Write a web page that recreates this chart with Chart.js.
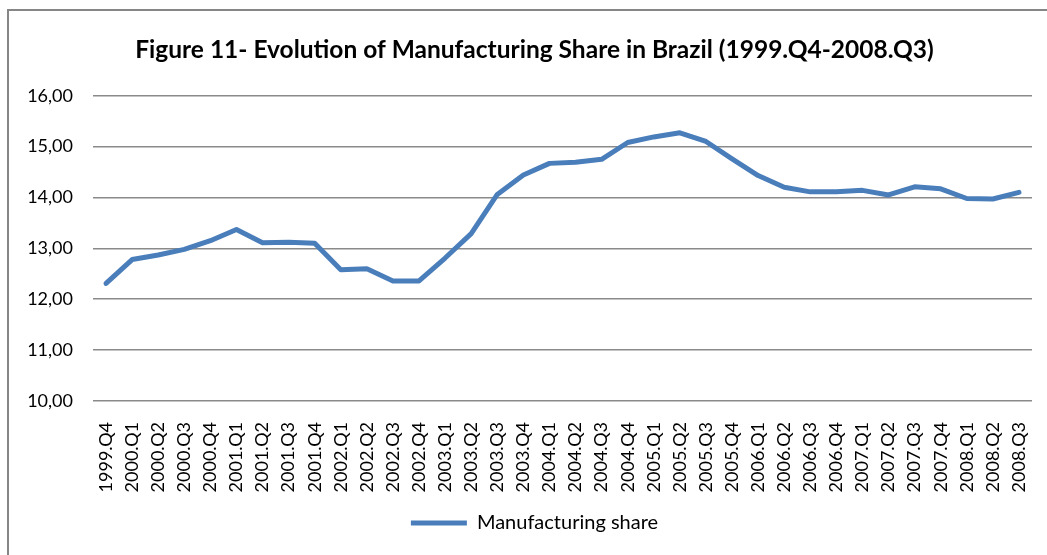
<!DOCTYPE html>
<html lang="en">
<head>
    <meta charset="UTF-8">
    <title>Manufacturing Share in Brazil</title>
    <script src="https://cdn.jsdelivr.net/npm/chart.js@4.4.2/dist/chart.umd.min.js"></script>
    <style>
        body {
          margin: 0;
          background-color: #fff;}
        .frame {
          position: absolute;
          left: 7px;
          top: 9px;
          width: 1100px;
          height: 600px;
          border-left: 2px solid #868686;
          border-top: 2px solid #868686;}
        .chart-box {
          position: absolute;
          left: 0;
          top: 0;
          width: 1047px;
          height: 555px;}
    </style>
</head>
<body>
    <div class="frame"></div>
    <div class="chart-box">
        <canvas id="shareChart"></canvas>
    </div>

<script>
    // quarters 1999.Q4 .. 2008.Q3
    const quarters = [
        '1999.Q4', '2000.Q1', '2000.Q2', '2000.Q3', '2000.Q4', '2001.Q1', '2001.Q2', '2001.Q3', '2001.Q4',
        '2002.Q1', '2002.Q2', '2002.Q3', '2002.Q4', '2003.Q1', '2003.Q2', '2003.Q3', '2003.Q4', '2004.Q1',
        '2004.Q2', '2004.Q3', '2004.Q4', '2005.Q1', '2005.Q2', '2005.Q3', '2005.Q4', '2006.Q1', '2006.Q2',
        '2006.Q3', '2006.Q4', '2007.Q1', '2007.Q2', '2007.Q3', '2007.Q4', '2008.Q1', '2008.Q2', '2008.Q3'];

    // manufacturing share (%)
    const manufacturingShare = [
        12.31, 12.78, 12.87, 12.98, 13.15, 13.37, 13.11, 13.12, 13.10,
        12.58, 12.60, 12.36, 12.36, 12.81, 13.29, 14.06, 14.44, 14.67,
        14.69, 14.75, 15.08, 15.19, 15.27, 15.10, 14.76, 14.43, 14.20,
        14.11, 14.11, 14.14, 14.05, 14.21, 14.17, 13.98, 13.97, 14.10];

    const yMin = 10;
    const yMax = 16;
    const yStep = 1;

    const titleText = 'Figure 11- Evolution of Manufacturing Share in Brazil (1999.Q4-2008.Q3)';
    const seriesName = 'Manufacturing share';

    const fontFamily = "Lato, 'Open Sans', sans-serif";

    const ctx = document.getElementById('shareChart').getContext('2d');
    const shareChart = new Chart(ctx, {
        type: 'line',
        data: {
            labels: quarters,
            datasets: [{
                label: seriesName,
                data: manufacturingShare,
                borderColor: '#4A7EBB',
                backgroundColor: '#4A7EBB',
                borderWidth: 5,
                borderCapStyle: 'round',
                borderJoinStyle: 'round',
                pointRadius: 0,
                pointStyle: 'line',
                tension: 0,
                fill: false}]},
        options: {
            responsive: true,
            maintainAspectRatio: false,
            animation: false,
            layout: {
                padding: {left: 22, right: 0, top: 10, bottom: 12}},
            scales: {
                x: {
                    offset: true,
                    grid: {display: false},
                    border: {display: false},
                    ticks: {
                        autoSkip: false,
                        maxRotation: 90,
                        minRotation: 90,
                        padding: 13,
                        color: '#000',
                        font: {family: fontFamily, size: 18}},
                    afterFit: function(scale) {
                        scale.height = 102;
                        scale.paddingRight = 15;}},
                y: {
                    min: yMin,
                    max: yMax,
                    grid: {
                        color: '#8a8a8a',
                        lineWidth: 1.5,
                        drawTicks: false},
                    border: {display: false},
                    ticks: {
                        stepSize: yStep,
                        padding: 20,
                        color: '#000',
                        font: {family: fontFamily, size: 18},
                        callback: function(value) {
                            return value.toFixed(2).replace('.', ',');}},
                    afterFit: function(scale) {
                        scale.width = 71;}}},
            plugins: {
                title: {
                    display: true,
                    text: titleText,
                    color: '#000',
                    font: {family: fontFamily, size: 24.5, weight: 'bold'},
                    padding: {top: 25, bottom: 31.3}},
                legend: {
                    position: 'bottom',
                    labels: {
                        usePointStyle: true,
                        pointStyleWidth: 56,
                        boxHeight: 18,
                        padding: 10,
                        color: '#000',
                        font: {family: fontFamily, size: 20}}},
                tooltip: {enabled: false}}}});
</script>
</body>
</html>
